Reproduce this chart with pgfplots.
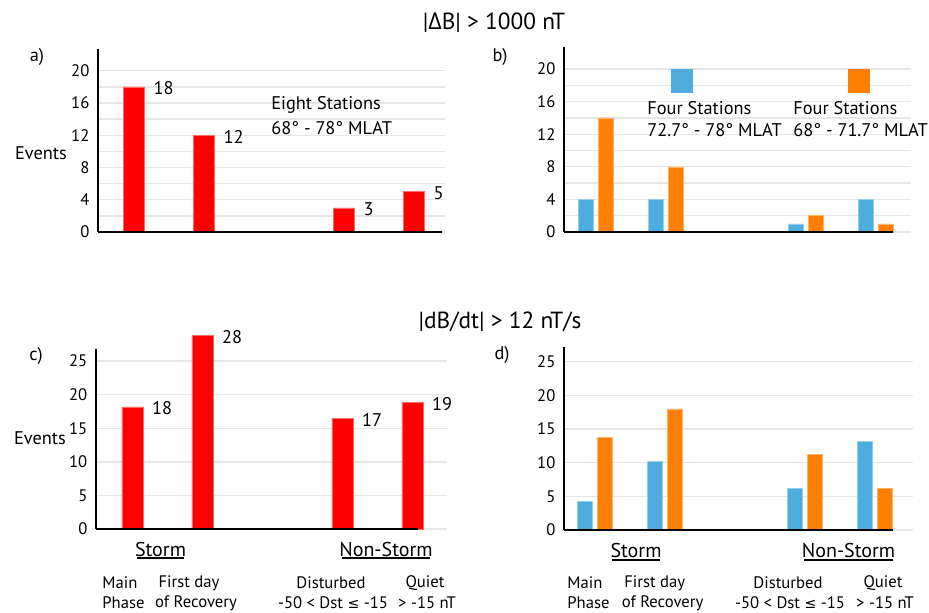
\documentclass[border=0pt]{standalone}
\usepackage{pgfplots}
\pgfplotsset{compat=1.18}
\usepackage{fontspec}
\setmainfont{PT Sans}
\newfontfamily\opensans{Open Sans}
\newfontfamily\dejavu{DejaVu Sans}
\definecolor{cred}{HTML}{FF0000}
\definecolor{cblue}{HTML}{4EADDE}
\definecolor{corange}{HTML}{FF8000}
\definecolor{cgrid}{HTML}{E6E6E6}
\newcommand{\fs}[1]{\fontsize{#1}{#1}\selectfont}
\pgfplotsset{
  panel/.style={
    scale only axis, anchor=south west,
    axis line style={draw=none},
    ymin=0, xtick=\empty,
    ymajorgrids, yminorgrids,
    major grid style={cgrid, line width=0.8pt},
    minor grid style={cgrid, line width=0.8pt},
    major tick length=0pt, minor tick length=0pt,
    yticklabel style={font=\fs{10}, inner sep=0pt, xshift=-5pt},
    /pgf/number format/assume math mode=true,
    clip=false, ybar,
  },
  lbl/.style={
    nodes near coords, point meta=explicit symbolic,
    every node near coord/.append style={anchor=west, xshift=8.3pt, yshift=-1pt, font=\fs{11}, text=black},
  },
}
\begin{document}
\begin{tikzpicture}
\useasboundingbox (0,0) rectangle (557.4pt,367.2pt);

% ---------------- a)
\begin{axis}[panel, at={(58.8pt,228pt)}, width=208.2pt, height=109.8pt,
  xmin=-0.514, xmax=4.443, ymax=22.7,
  ytick={0,4,8,12,16,20}, minor ytick={2,6,10,14,18}]
\addplot[fill=cred, draw=cred!60!white, line width=0.3pt, bar width=12.6pt, bar shift=0pt, lbl]
  table[meta=lab]{
x y lab
0 18 18
1 12 12
3 3 3
4 5 5
};
\draw[line width=1.2pt] (rel axis cs:0,0) -- (rel axis cs:0,1);
\draw[line width=1.2pt] (rel axis cs:0,0) -- (axis cs:4.40,0);
\end{axis}

% ---------------- b)
\begin{axis}[panel, at={(338.4pt,228pt)}, width=208.2pt, height=111pt,
  xmin=-0.45, xmax=4.507, ymax=22.7,
  ytick={0,4,8,12,16,20}, minor ytick={2,6,10,14,18}]
\addplot[fill=cblue, draw=cblue!60!white, line width=0.3pt, bar width=9pt, bar shift=-6pt]
  table{
x y
0 4
1 4
3 1
4 4
};
\addplot[fill=corange, draw=corange!60!white, line width=0.3pt, bar width=9pt, bar shift=6pt]
  table{
x y
0 14
1 8
3 2
4 1
};
\draw[line width=1.2pt] (rel axis cs:0,0) -- (rel axis cs:0,1);
\draw[line width=1.2pt] (rel axis cs:0,0) -- (axis cs:4.25,0);
\end{axis}

% ---------------- c)
\begin{axis}[panel, at={(57.6pt,49.8pt)}, width=210.6pt, height=108pt,
  xmin=-0.52, xmax=4.494, ymax=26.8,
  ytick={0,5,10,15,20,25}, minor ytick={}]
\addplot[fill=cred, draw=cred!60!white, line width=0.3pt, bar width=12.6pt, bar shift=0pt, lbl]
  table[meta=lab]{
x y lab
0 18.2 18
1 28.8 28
3 16.5 17
4 18.9 19
};
\draw[line width=1.2pt] (rel axis cs:0,0) -- (rel axis cs:0,1);
\draw[line width=1.2pt] (rel axis cs:0,0) -- (axis cs:4.08,0);
\end{axis}

% ---------------- d)
\begin{axis}[panel, at={(338.4pt,49.2pt)}, width=209.4pt, height=109.8pt,
  xmin=-0.44, xmax=4.546, ymax=27.2,
  ytick={0,5,10,15,20,25}, minor ytick={}]
\addplot[fill=cblue, draw=cblue!60!white, line width=0.3pt, bar width=9pt, bar shift=-6pt]
  table{
x y
0 4.3
1 10.2
3 6.2
4 13.2
};
\addplot[fill=corange, draw=corange!60!white, line width=0.3pt, bar width=9pt, bar shift=6pt]
  table{
x y
0 13.8
1 18
3 11.2
4 6.2
};
\draw[line width=1.2pt] (rel axis cs:0,0) -- (rel axis cs:0,1);
\draw[line width=1.2pt] (rel axis cs:0,0) -- (axis cs:4.26,0);
\end{axis}

\begin{scope}[x=0.6pt, y=-0.6pt, yshift=367.2pt]
% ---------------- titles and texts
\node[font=\fs{14}] at (494,23) {|{\opensans Δ}B| > 1000 nT};
\node[font=\fs{14}] at (500,322) {|dB/dt| > 12 nT/s};

\node[font=\fs{11}] at (37,57) {a)};
\node[font=\fs{11}] at (500,57) {b)};
\node[font=\fs{11}] at (36,356) {c)};
\node[font=\fs{11}] at (502,355) {d)};

\node[font=\fs{11}] at (41,153) {Events};
\node[font=\fs{11}] at (40,438) {Events};

\node[font=\fs{11}, anchor=west, inner sep=0pt] at (271,105) {Eight Stations};
\node[font=\fs{11}, anchor=west, inner sep=0pt] at (271,128) {68° - 78° MLAT};

\fill[cblue] (671,69) rectangle (693,93);
\fill[corange] (848,69) rectangle (870,93);
\node[font=\fs{11}, anchor=west, inner sep=0pt] at (647,108) {Four Stations};
\node[font=\fs{11}, anchor=west, inner sep=0pt] at (647,130) {72.7° - 78° MLAT};
\node[font=\fs{11}, anchor=west, inner sep=0pt] at (793,108) {Four Stations};
\node[font=\fs{11}, anchor=west, inner sep=0pt] at (793,130) {68° - 71.7° MLAT};

% bottom labels c
\node[font=\fs{12}] at (160.5,549) {Storm};
\draw[line width=1.2pt] (137,558) -- (184,558);
\node[font=\fs{12}] at (386,549) {Non-Storm};
\draw[line width=1.2pt] (342,558) -- (430,558);
\node[font=\fs{10}, anchor=west, inner sep=0pt] at (102,583) {Main};
\node[font=\fs{10}, anchor=west, inner sep=0pt] at (102,603) {Phase};
\node[font=\fs{10}, inner sep=0pt] at (189,583) {First day};
\node[font=\fs{10}, inner sep=0pt] at (196,603) {of Recovery};
\node[font=\fs{10}, inner sep=0pt] at (331,583) {Disturbed};
\node[font=\fs{10}, inner sep=0pt] at (333,603) {-50 < Dst {\dejavu\fs{8.5}≤} -15};
\node[font=\fs{10}, inner sep=0pt] at (425,583) {Quiet};
\node[font=\fs{10}, inner sep=0pt] at (427,603) {> -15 nT};

% bottom labels d
\node[font=\fs{12}] at (636,550) {Storm};
\draw[line width=1.2pt] (612,560) -- (660,560);
\node[font=\fs{12}] at (848.5,550) {Non-Storm};
\draw[line width=1.2pt] (804,560) -- (893,560);
\node[font=\fs{10}, anchor=west, inner sep=0pt] at (567,583) {Main};
\node[font=\fs{10}, anchor=west, inner sep=0pt] at (567,603) {Phase};
\node[font=\fs{10}, inner sep=0pt] at (654.7,583) {First day};
\node[font=\fs{10}, inner sep=0pt] at (662.5,603) {of Recovery};
\node[font=\fs{10}, inner sep=0pt] at (788,583) {Disturbed};
\node[font=\fs{10}, inner sep=0pt] at (790,603) {-50 < Dst {\dejavu\fs{8.5}≤} -15};
\node[font=\fs{10}, inner sep=0pt] at (883,583) {Quiet};
\node[font=\fs{10}, inner sep=0pt] at (885,603) {> -15 nT};
\end{scope}
\end{tikzpicture}
\end{document}
